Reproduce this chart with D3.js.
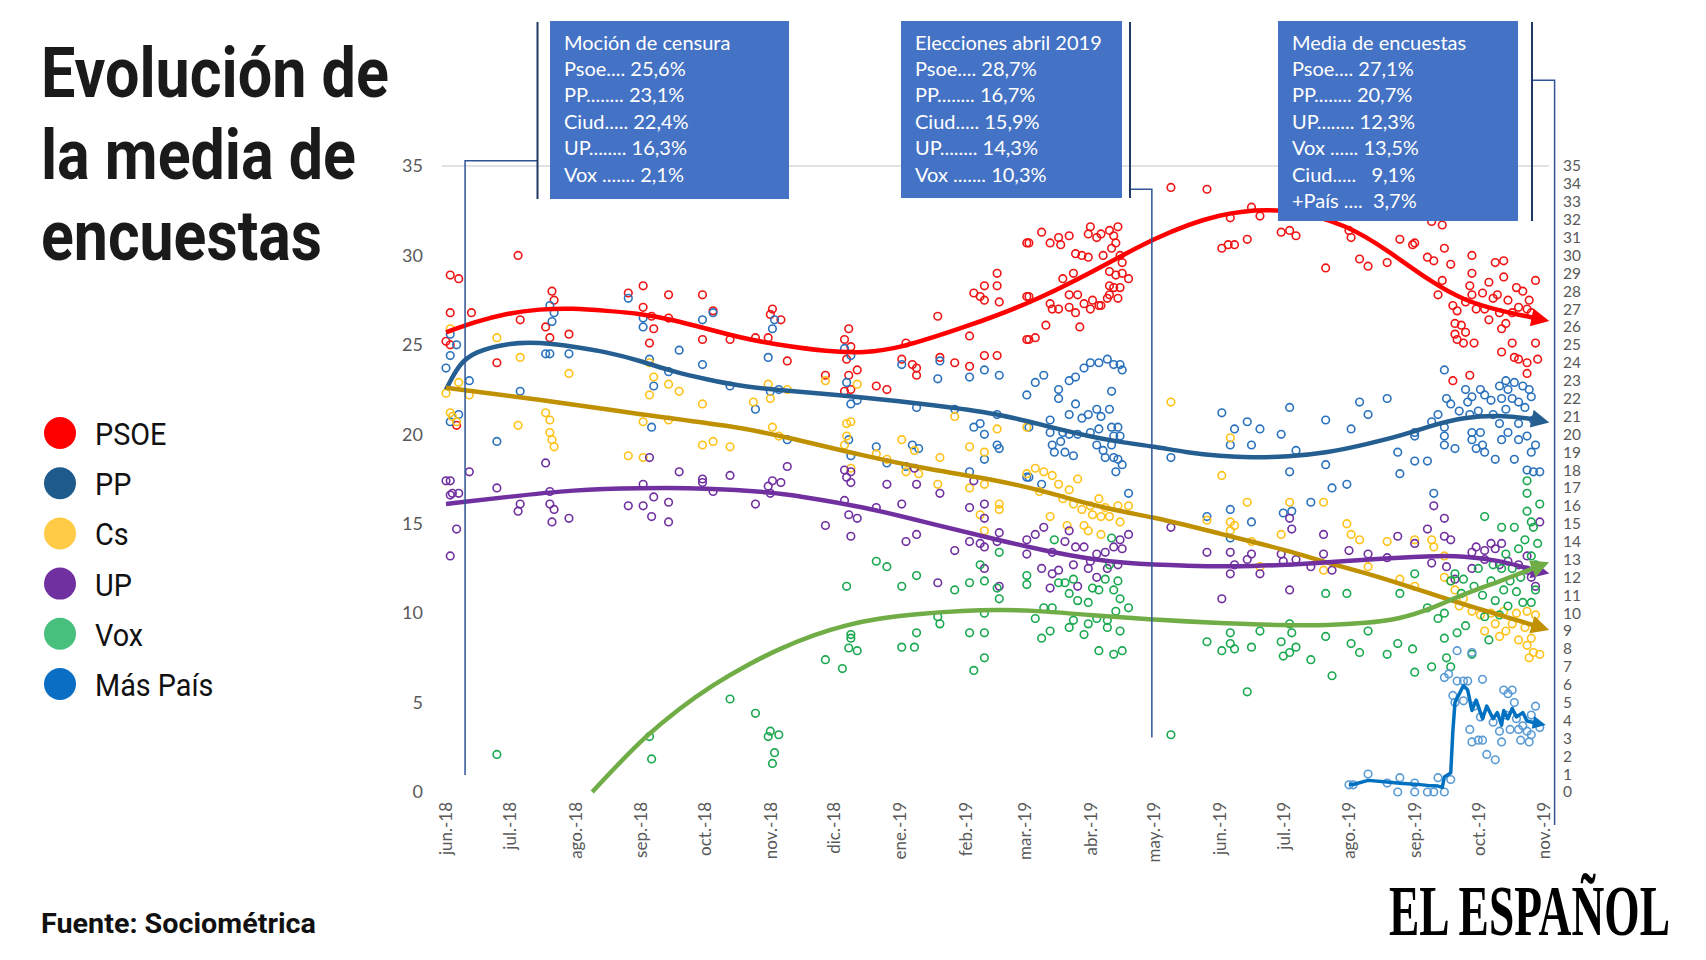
<!DOCTYPE html>
<html><head><meta charset="utf-8">
<script src="https://cdn.jsdelivr.net/npm/d3@7"></script>
<style>
body{margin:0;background:#fff;}
svg{display:block;}
</style></head><body>
<svg id="c" width="1706" height="960"></svg>
<script>
// ---------- DATA ----------
const monthLabels = ["jun.-18","jul.-18","ago.-18","sep.-18","oct.-18","nov.-18","dic.-18","ene.-19","feb.-19","mar.-19","abr.-19","may.-19","jun.-19","jul.-19","ago.-19","sep.-19","oct.-19","nov.-19"];
const monthDates = ["2018-06-01","2018-07-01","2018-08-01","2018-09-01","2018-10-01","2018-11-01","2018-12-01","2019-01-01","2019-02-01","2019-03-01","2019-04-01","2019-05-01","2019-06-01","2019-07-01","2019-08-01","2019-09-01","2019-10-01","2019-11-01"];
const leftTicks = [0,5,10,15,20,25,30,35];
const rightTicks = [0,1,2,3,4,5,6,7,8,9,10,11,12,13,14,15,16,17,18,19,20,21,22,23,24,25,26,27,28,29,30,31,32,33,34,35];
const partyNames = ["PSOE","PP","Cs","UP","Vox","Más País"];

const psoePolls = [["2018-06-03",28.9],["2018-06-07",28.7],["2018-07-05",30.0],["2018-06-03",26.8],["2018-06-13",26.8],["2018-06-01",25.2],["2018-06-03",25.0],["2018-06-06",20.5],["2018-07-06",26.4],["2018-06-25",24.0],["2018-07-21",28.0],["2018-07-22",27.5],["2018-07-18",26.0],["2018-07-20",25.4],["2018-07-29",25.6],["2018-08-26",27.9],["2018-09-02",28.3],["2018-09-02",27.1],["2018-09-06",26.6],["2018-09-07",25.9],["2018-09-05",25.1],["2018-09-14",27.8],["2018-09-14",26.5],["2018-09-30",27.8],["2018-09-30",25.3],["2018-10-05",26.9],["2018-10-13",25.3],
["2018-10-25",25.4],["2018-10-31",25.4],["2018-11-02",27.0],["2018-11-01",26.7],["2018-11-06",26.4],["2018-11-09",24.1],["2018-11-27",23.3],["2018-12-08",25.9],["2018-12-06",25.3],["2018-12-09",24.9],["2018-12-07",24.2],["2018-12-12",23.6],["2018-12-08",23.3],["2018-12-09",22.5],["2018-12-06",22.4],["2018-12-21",22.7],["2018-12-26",22.5],["2019-01-04",25.1],["2019-01-02",24.2],["2019-01-07",23.9],["2019-01-09",23.7],["2019-01-09",23.3],["2019-01-19",26.6],["2019-01-20",24.3],["2019-01-27",24.0],["2019-02-03",25.5],["2019-02-03",23.8],["2019-02-05",27.9],["2019-02-10",28.3],["2019-02-08",27.7],["2019-02-10",27.5],["2019-02-16",29.0],["2019-02-16",28.3],["2019-02-17",27.4],["2019-02-10",24.4],["2019-02-16",24.4],["2019-03-02",30.7],["2019-03-02",27.7],["2019-03-02",25.3],
["2019-03-09",31.3],["2019-03-03",30.7],["2019-03-13",30.7],["2019-03-17",31.0],["2019-03-18",30.6],["2019-03-22",31.1],["2019-03-31",31.2],["2019-04-01",31.6],["2019-04-04",31.0],["2019-04-06",31.2],["2019-04-10",31.4],["2019-04-14",31.6],["2019-04-12",31.1],["2019-04-13",30.7],["2019-04-11",30.4],["2019-04-15",30.0],["2019-04-16",29.6],["2019-03-25",30.1],["2019-03-28",30.0],["2019-03-31",29.9],["2019-04-07",30.0],["2019-03-24",29.0],["2019-03-19",28.7],["2019-04-10",29.1],["2019-04-13",28.9],["2019-04-16",29.0],["2019-04-19",28.7],["2019-04-10",28.3],["2019-04-12",28.2],["2019-04-15",28.2],["2019-04-10",27.8],["2019-04-14",27.6],["2019-03-03",27.7],["2019-03-13",27.3],["2019-03-22",27.8],["2019-03-26",27.8],["2019-03-29",27.3],["2019-04-02",27.5],["2019-04-05",27.2],["2019-04-09",27.6],["2019-03-14",27.0],["2019-03-17",27.0],["2019-03-22",27.1],["2019-03-25",26.8],["2019-04-01",27.0],["2019-04-06",27.2],["2019-03-11",26.1],["2019-03-27",26.0],["2019-03-03",25.3],["2019-03-06",25.4],
["2019-05-09",33.8],["2019-05-26",33.7],["2019-06-06",32.1],["2019-06-20",32.2],["2019-06-16",32.7],["2019-06-02",30.4],["2019-06-05",30.6],["2019-06-08",30.6],["2019-06-14",30.9],["2019-06-30",31.3],["2019-07-04",31.4],["2019-07-07",31.1],
["2019-07-21",29.3],["2019-08-01",31.4],["2019-08-02",31.0],["2019-08-06",29.8],["2019-08-10",29.4],["2019-08-19",29.6],["2019-08-25",30.9],["2019-09-01",30.7],["2019-08-31",30.6],["2019-09-09",31.9],["2019-09-14",31.7],["2019-09-07",29.9],["2019-09-10",29.7],["2019-09-15",30.4],["2019-09-18",29.5],["2019-09-14",28.6],["2019-09-12",27.8],["2019-09-19",27.2],["2019-09-21",26.9],["2019-09-25",27.4],["2019-09-28",30.0],["2019-09-28",29.0],["2019-09-27",28.3],["2019-09-28",27.8],["2019-10-03",27.9],["2019-10-06",28.5],["2019-10-09",29.6],["2019-10-13",29.7],["2019-10-13",28.8],["2019-10-08",27.6],["2019-10-04",27.0],["2019-10-10",27.8],["2019-10-15",27.5],["2019-10-19",28.2],["2019-10-22",28.0],["2019-10-28",28.6],["2019-10-25",27.5],["2019-10-20",27.1],["2019-10-17",26.8],["2019-10-11",26.8],["2019-10-06",26.4],["2019-09-30",27.0],["2019-10-24",27.0],["2019-10-26",26.8],["2019-09-20",26.2],["2019-09-23",26.1],["2019-09-20",25.6],["2019-09-25",25.7],["2019-09-21",25.3],["2019-09-24",25.1],["2019-09-29",25.1],["2019-10-12",25.9],["2019-10-14",26.2],["2019-10-17",25.1],["2019-10-12",24.6],["2019-10-28",25.1],["2019-10-18",24.3],["2019-10-20",24.2],["2019-10-24",24.0],["2019-10-29",24.2],["2019-10-24",23.4],["2019-09-19",23.0],["2019-09-27",23.3]];

const ppPolls = [["2018-06-01",23.7],["2018-06-03",24.4],["2018-06-03",25.6],["2018-06-06",25.0],["2018-06-03",20.7],["2018-06-07",21.1],["2018-06-12",23.0],["2018-06-25",19.6],["2018-07-06",22.4],["2018-07-20",27.2],["2018-07-22",26.8],["2018-07-21",26.3],["2018-07-18",24.5],["2018-07-20",24.5],["2018-07-29",24.5],["2018-08-26",27.6],["2018-09-02",26.5],["2018-09-02",26.0],["2018-09-05",24.2],["2018-09-07",22.7],["2018-09-06",20.4],["2018-09-14",23.5],["2018-09-19",24.7],["2018-09-30",26.4],["2018-10-05",26.8],["2018-09-30",23.9],["2018-10-13",22.7],
["2018-11-02",25.9],["2018-11-03",26.4],["2018-10-31",24.3],["2018-10-25",21.4],["2018-11-01",22.4],["2018-11-05",22.5],["2018-11-09",19.7],["2018-12-06",24.8],["2018-12-09",24.4],["2018-12-07",22.9],["2018-12-09",21.7],["2018-12-12",21.9],["2018-12-08",19.7],["2018-12-09",18.8],["2018-12-21",19.3],["2018-12-26",18.4],["2019-01-02",23.9],["2019-01-09",21.5],["2019-01-07",19.4],["2019-01-10",19.2],["2019-01-04",18.2],["2019-01-19",23.1],["2019-01-20",24.1],["2019-01-27",21.4],["2019-02-03",23.2],["2019-02-05",20.4],["2019-02-08",20.6],["2019-02-10",20.0],["2019-02-10",23.6],["2019-02-17",23.3],["2019-02-16",21.1],["2019-02-16",19.4],["2019-02-17",19.2],["2019-02-03",17.9],["2019-02-10",18.6],["2019-03-02",22.2],["2019-03-02",17.6],
["2019-03-06",22.9],["2019-03-10",23.3],["2019-03-17",22.5],["2019-03-17",22.0],["2019-03-22",23.0],["2019-03-25",23.2],["2019-03-29",23.7],["2019-04-01",24.0],["2019-04-05",24.0],["2019-04-09",24.2],["2019-04-12",23.9],["2019-04-15",23.9],["2019-04-16",23.6],["2019-04-11",22.4],["2019-03-25",21.7],["2019-03-13",20.8],["2019-03-22",21.1],["2019-03-28",20.9],["2019-03-31",21.1],["2019-04-04",21.4],["2019-04-06",21.0],["2019-04-10",21.4],["2019-03-03",20.4],["2019-03-13",20.1],["2019-03-19",20.1],["2019-03-22",20.0],["2019-03-26",20.0],["2019-04-01",20.1],["2019-04-05",20.3],["2019-04-11",20.4],["2019-04-14",20.4],["2019-04-12",19.9],["2019-04-15",19.9],["2019-03-14",19.4],["2019-03-18",19.6],["2019-03-15",19.0],["2019-03-20",19.0],["2019-03-24",18.8],["2019-04-04",19.4],["2019-04-07",19.1],["2019-04-11",19.4],["2019-04-08",18.7],["2019-04-12",18.7],["2019-04-14",18.6],["2019-04-16",18.3],["2019-04-13",17.9],["2019-03-03",17.6],["2019-03-09",17.2],["2019-04-19",16.7],
["2019-05-09",18.7],["2019-06-02",21.2],["2019-06-08",20.3],["2019-06-14",20.7],["2019-06-20",20.3],["2019-06-06",19.4],["2019-06-16",19.4],["2019-06-30",20.0],["2019-07-04",21.5],["2019-07-07",19.1],["2019-07-04",17.9],["2019-05-26",15.4],["2019-06-06",15.8],["2019-06-06",14.2],["2019-06-16",15.1],["2019-07-01",15.6],["2019-07-05",15.7],["2019-07-14",16.2],
["2019-07-21",20.8],["2019-08-02",20.3],["2019-08-06",21.8],["2019-08-10",21.1],["2019-08-19",22.0],["2019-07-21",18.3],["2019-07-24",17.0],["2019-07-31",17.2],["2019-08-24",19.0],["2019-08-25",17.8],["2019-09-01",20.1],["2019-09-01",19.9],["2019-09-01",18.5],["2019-09-07",18.5],["2019-09-10",16.7],["2019-09-09",20.7],["2019-09-12",21.1],["2019-09-15",23.6],["2019-09-15",20.4],["2019-09-15",19.9],["2019-09-15",19.4],["2019-09-16",22.0],["2019-09-18",21.7],["2019-09-20",19.2],["2019-09-22",21.3],["2019-09-25",22.5],["2019-09-26",21.8],["2019-09-28",22.1],["2019-09-27",21.1],["2019-09-28",20.1],["2019-09-28",19.7],["2019-09-30",19.2],["2019-10-02",22.5],["2019-10-04",22.2],["2019-10-01",21.3],["2019-10-02",20.1],["2019-10-03",19.4],["2019-10-04",19.0],["2019-10-07",21.9],["2019-10-08",21.1],["2019-10-09",18.6],["2019-10-11",22.7],["2019-10-12",22.0],["2019-10-11",20.6],["2019-10-12",19.7],["2019-10-14",23.0],["2019-10-15",22.5],["2019-10-14",21.4],["2019-10-15",20.1],["2019-10-17",22.0],["2019-10-18",22.9],["2019-10-20",21.8],["2019-10-18",18.6],["2019-10-20",20.6],["2019-10-22",22.7],["2019-10-23",21.5],["2019-10-24",19.9],["2019-10-26",22.1],["2019-10-27",20.8],["2019-10-28",19.4],["2019-10-26",19.0],["2019-10-24",18.0],["2019-10-27",17.9],["2019-10-30",17.9],["2019-10-25",22.5],["2019-10-20",19.7]];

const csPolls = [["2018-06-01",22.3],["2018-06-03",25.9],["2018-06-03",21.2],["2018-06-04",21.0],["2018-06-06",20.7],["2018-06-07",22.9],["2018-06-12",22.2],["2018-06-25",25.4],["2018-07-06",24.3],["2018-07-05",20.5],["2018-07-18",21.2],["2018-07-20",20.8],["2018-07-20",20.1],["2018-07-21",19.7],["2018-07-22",19.3],["2018-07-29",23.4],["2018-08-26",18.8],["2018-09-02",18.7],["2018-09-02",20.7],["2018-09-05",22.2],["2018-09-07",23.2],["2018-09-05",24.0],["2018-09-14",22.8],["2018-09-14",20.8],["2018-09-19",22.4],["2018-09-30",21.7],["2018-09-30",19.4],["2018-10-05",19.6],["2018-10-13",19.3],
["2018-10-31",22.8],["2018-10-24",21.8],["2018-11-01",22.0],["2018-11-09",22.5],["2018-11-02",20.4],["2018-11-05",19.9],["2018-11-27",23.0],["2018-12-12",22.8],["2018-12-07",20.6],["2018-12-09",20.7],["2018-12-07",19.9],["2018-12-06",19.4],["2018-12-09",18.1],["2018-12-21",18.9],["2018-12-26",18.6],["2019-01-02",19.7],["2019-01-08",19.1],["2019-01-04",17.9],["2019-01-10",17.8],["2019-01-20",18.7],["2019-01-19",17.2],["2019-01-27",21.0],["2019-02-03",19.3],["2019-02-03",17.0],["2019-02-10",19.0],["2019-02-10",17.2],["2019-02-16",20.3],["2019-02-17",16.1],["2019-02-17",15.8],["2019-02-08",15.5],["2019-02-10",14.6],["2019-03-02",20.4],["2019-03-02",17.8],
["2019-03-06",18.1],["2019-03-10",17.9],["2019-03-14",17.7],["2019-03-08",16.8],["2019-03-17",17.2],["2019-03-22",16.9],["2019-03-26",17.5],["2019-03-19",16.4],["2019-03-24",16.1],["2019-03-28",15.8],["2019-04-01",16.0],["2019-04-05",16.4],["2019-04-08",15.9],["2019-04-14",16.0],["2019-04-19",16.0],["2019-04-02",15.5],["2019-04-06",15.4],["2019-04-10",15.4],["2019-04-15",15.1],["2019-03-13",15.4],["2019-03-29",14.9],["2019-03-31",14.6],["2019-03-21",14.9],["2019-04-06",14.4],
["2019-05-09",21.8],["2019-06-06",19.8],["2019-06-02",17.7],["2019-06-14",16.2],["2019-07-04",16.2],["2019-05-26",15.2],["2019-06-06",15.1],["2019-06-08",14.9],["2019-06-06",14.6],["2019-06-16",14.0],["2019-06-30",14.4],["2019-06-20",12.6],
["2019-07-20",16.2],["2019-07-31",15.0],["2019-08-02",14.4],["2019-08-06",14.1],["2019-08-10",12.6],["2019-08-19",14.0],["2019-07-20",12.4],["2019-08-25",11.9],["2019-09-01",11.5],["2019-09-01",14.1],["2019-09-09",14.1],["2019-09-10",13.7],["2019-09-15",13.2],["2019-09-15",12.0],["2019-09-18",11.8],["2019-09-20",11.3],["2019-09-22",10.4],["2019-09-24",10.8],["2019-09-28",10.1],["2019-10-02",9.9],["2019-10-04",9.0],["2019-10-07",10.0],["2019-10-09",9.4],["2019-10-11",8.7],["2019-10-13",10.1],["2019-10-14",9.0],["2019-10-17",9.4],["2019-10-19",10.0],["2019-10-20",8.5],["2019-10-23",9.2],["2019-10-24",8.2],["2019-10-26",8.6],["2019-10-27",7.8],["2019-10-30",7.7],["2019-10-25",7.5],["2019-10-24",10.1],["2019-10-28",9.9]];

const upPolls = [["2018-06-01",17.4],["2018-06-03",17.4],["2018-06-03",16.6],["2018-06-04",16.7],["2018-06-07",16.7],["2018-06-06",14.7],["2018-06-03",13.2],["2018-06-12",17.9],["2018-06-25",17.0],["2018-07-05",15.7],["2018-07-06",16.1],["2018-07-18",18.4],["2018-07-20",16.8],["2018-07-20",16.1],["2018-07-22",15.8],["2018-07-21",15.1],["2018-07-29",15.3],["2018-08-26",16.0],["2018-09-02",17.2],["2018-09-02",16.0],["2018-09-05",18.7],["2018-09-07",16.5],["2018-09-06",15.4],["2018-09-14",16.2],["2018-09-14",15.1],["2018-09-19",17.9],["2018-09-30",17.5],["2018-09-30",17.3],["2018-10-05",16.8],["2018-10-13",17.7],
["2018-10-25",16.1],["2018-10-31",17.1],["2018-11-02",17.4],["2018-11-01",16.7],["2018-11-06",17.3],["2018-11-09",18.2],["2018-11-27",14.9],["2018-12-06",18.0],["2018-12-09",17.9],["2018-12-07",17.6],["2018-12-09",17.3],["2018-12-06",16.3],["2018-12-08",15.5],["2018-12-12",15.3],["2018-12-09",14.3],["2018-12-26",17.2],["2018-12-21",15.9],["2019-01-02",16.1],["2019-01-08",18.1],["2019-01-09",17.2],["2019-01-04",14.0],["2019-01-09",14.4],["2019-01-20",16.7],["2019-01-19",11.7],["2019-01-27",13.5],["2019-02-03",15.9],["2019-02-05",17.4],["2019-02-10",16.1],["2019-02-10",15.3],["2019-02-03",14.0],["2019-02-08",13.9],["2019-02-10",13.7],["2019-02-10",12.5],["2019-02-17",14.5],["2019-02-16",14.0],["2019-02-17",11.5],["2019-03-02",14.1],["2019-03-02",13.3],
["2019-03-06",14.4],["2019-03-10",14.8],["2019-03-09",12.5],["2019-03-14",13.4],["2019-03-20",14.0],["2019-03-22",14.6],["2019-03-25",13.7],["2019-03-29",13.7],["2019-04-01",12.9],["2019-04-04",13.3],["2019-04-08",13.4],["2019-04-12",13.7],["2019-04-15",14.1],["2019-04-16",13.6],["2019-04-19",14.4],["2019-03-14",12.2],["2019-03-17",12.4],["2019-03-24",12.7],["2019-03-31",12.5],["2019-04-04",12.0],["2019-04-09",12.5],["2019-04-14",12.7],["2019-03-13",11.4],["2019-03-26",11.5],
["2019-05-09",14.8],["2019-05-26",13.4],["2019-06-06",13.4],["2019-06-08",12.7],["2019-06-06",12.2],["2019-06-14",13.0],["2019-06-16",13.3],["2019-06-20",12.2],["2019-06-02",10.8],["2019-06-30",13.3],["2019-07-04",15.3],["2019-07-05",14.7],["2019-07-01",12.9],["2019-07-07",13.0],["2019-07-04",11.3],["2019-07-14",12.6],
["2019-07-20",14.4],["2019-07-20",13.3],["2019-07-24",12.4],["2019-08-01",13.5],["2019-08-10",13.3],["2019-08-19",13.1],["2019-08-24",14.3],["2019-09-01",13.9],["2019-09-07",14.7],["2019-09-10",16.0],["2019-09-15",15.3],["2019-09-15",14.3],["2019-09-18",14.1],["2019-09-09",12.8],["2019-09-16",12.6],["2019-09-20",11.9],["2019-09-28",13.4],["2019-09-30",13.7],["2019-10-04",13.5],["2019-10-07",13.9],["2019-10-09",13.6],["2019-10-12",13.9],["2019-09-28",12.5],["2019-10-04",13.0],["2019-10-11",12.7],["2019-10-15",12.9],["2019-10-20",12.7],["2019-10-24",13.2],["2019-10-26",12.0],["2019-10-30",15.1],["2019-10-28",11.5],["2019-10-24",12.4]];

const voxPolls = [["2018-06-25",2.1],["2018-09-05",3.1],["2018-09-06",1.85],["2018-10-13",5.2],
["2018-10-25",4.4],["2018-11-01",3.4],["2018-10-31",3.1],["2018-11-05",3.2],["2018-11-03",2.2],["2018-11-02",1.6],["2018-11-27",7.4],["2018-12-05",6.9],["2018-12-07",11.5],["2018-12-09",8.8],["2018-12-09",8.6],["2018-12-08",8.05],["2018-12-12",7.9],["2018-12-21",12.9],["2018-12-26",12.6],["2019-01-02",11.5],["2019-01-09",12.1],["2019-01-09",8.9],["2019-01-02",8.1],["2019-01-08",8.1],["2019-01-19",9.8],["2019-01-20",9.4],["2019-01-27",11.3],["2019-02-03",11.7],["2019-02-03",8.9],["2019-02-05",6.8],["2019-02-08",12.7],["2019-02-10",11.8],["2019-02-10",10.0],["2019-02-10",8.9],["2019-02-10",7.5],["2019-02-16",11.4],["2019-02-17",10.8],["2019-02-17",13.4],["2019-03-02",12.1],["2019-03-02",11.6],
["2019-03-06",9.7],["2019-03-09",8.6],["2019-03-10",10.3],["2019-03-13",9.0],["2019-03-14",10.3],["2019-03-15",14.1],["2019-03-17",11.7],["2019-03-20",11.7],["2019-03-22",11.1],["2019-03-24",11.9],["2019-03-26",10.7],["2019-03-24",9.6],["2019-03-22",9.2],["2019-03-29",8.8],["2019-03-31",10.6],["2019-03-31",9.4],["2019-04-02",11.4],["2019-04-05",11.3],["2019-04-08",11.9],["2019-04-10",12.7],["2019-04-11",14.2],["2019-04-12",11.3],["2019-04-14",11.8],["2019-04-15",10.8],["2019-04-13",10.1],["2019-04-09",9.6],["2019-04-04",9.7],["2019-04-09",9.2],["2019-04-15",9.0],["2019-04-19",10.3],["2019-04-05",7.9],["2019-04-12",7.7],["2019-04-16",7.9],
["2019-05-09",3.2],["2019-05-26",8.4],["2019-06-02",7.9],["2019-06-06",8.9],["2019-06-06",8.3],["2019-06-08",8.0],["2019-06-16",8.1],["2019-06-14",5.6],["2019-06-20",9.0],["2019-06-30",8.4],["2019-07-01",7.6],["2019-07-04",7.8],["2019-07-07",8.1],["2019-07-05",8.9],["2019-07-04",9.4],["2019-07-14",7.4],
["2019-07-21",11.1],["2019-07-21",8.7],["2019-07-24",6.5],["2019-07-31",11.1],["2019-08-02",8.3],["2019-08-06",7.8],["2019-08-10",9.0],["2019-08-19",7.7],["2019-08-24",8.3],["2019-08-25",11.1],["2019-09-01",12.2],["2019-08-31",8.0],["2019-09-01",6.7],["2019-09-07",10.3],["2019-09-09",7.0],["2019-09-12",9.7],["2019-09-15",10.0],["2019-09-15",8.6],["2019-09-16",7.5],["2019-09-18",7.0],["2019-09-18",11.8],["2019-09-20",12.2],["2019-09-21",8.9],["2019-09-23",11.1],["2019-09-24",11.9],["2019-09-25",9.3],["2019-09-28",7.7],["2019-09-29",11.5],["2019-10-01",12.5],["2019-10-03",11.0],["2019-10-04",9.8],["2019-10-04",15.4],["2019-10-06",8.5],["2019-10-07",11.8],["2019-10-08",12.7],["2019-10-09",10.7],["2019-10-11",9.9],["2019-10-12",14.8],["2019-10-12",12.5],["2019-10-13",11.3],["2019-10-14",13.3],["2019-10-15",10.4],["2019-10-16",11.8],["2019-10-17",12.5],["2019-10-18",14.8],["2019-10-19",11.2],["2019-10-20",13.6],["2019-10-21",12.0],["2019-10-22",10.6],["2019-10-23",14.1],["2019-10-24",17.4],["2019-10-24",16.7],["2019-10-24",15.7],["2019-10-26",13.2],["2019-10-27",14.8],["2019-10-28",12.7],["2019-10-30",16.1],["2019-10-28",11.3],["2019-10-26",10.6],["2019-10-29",13.9],["2019-10-26",15.1]];

const mpPolls = [["2019-08-01",0.4],["2019-08-03",0.4],["2019-08-10",1.0],["2019-08-19",0.5],["2019-08-24",0.0],["2019-08-25",0.8],["2019-09-01",0.5],["2019-09-01",0.0],["2019-09-07",0.0],["2019-09-10",0.0],["2019-09-12",0.8],["2019-09-15",0.0],["2019-09-18",0.7],["2019-09-15",6.4],["2019-09-17",6.6],["2019-09-19",5.4],["2019-09-21",6.2],["2019-09-24",6.2],["2019-09-26",6.2],["2019-10-03",6.3],["2019-09-20",5.0],["2019-09-24",5.1],["2019-09-29",4.8],["2019-10-02",4.2],["2019-09-27",3.5],["2019-09-28",2.8],["2019-10-03",2.9],["2019-10-05",2.1],["2019-10-09",1.8],["2019-10-08",3.9],["2019-10-11",3.4],["2019-10-12",2.8],["2019-10-13",5.7],["2019-10-15",5.5],["2019-10-17",5.7],["2019-10-18",5.0],["2019-10-14",4.3],["2019-10-19",4.1],["2019-10-20",3.5],["2019-10-21",2.9],["2019-10-22",3.7],["2019-10-24",3.4],["2019-10-26",3.2],["2019-10-25",2.8],["2019-10-28",4.8],["2019-10-30",3.6],["2019-10-26",4.3],["2019-10-16",3.5],["2019-10-01",2.9],["2019-09-21",7.9],["2019-09-28",7.8]];

const psoeTrend = [["2018-06-01",25.7],["2018-06-14",26.26],["2018-06-30",26.77],["2018-07-15",27.0],["2018-07-31",27.05],["2018-08-16",26.9],["2018-09-01",26.75],["2018-09-16",26.4],["2018-10-02",25.9],["2018-10-18",25.4],["2018-11-02",25.05],["2018-11-29",24.6],["2018-12-15",24.55],["2019-01-01",24.8],["2019-02-01",26.0],["2019-03-01",27.2],["2019-04-01",29.0],["2019-05-01",31.0],["2019-06-01",32.4],["2019-07-01",32.7],["2019-08-01",31.7],["2019-08-20",30.2],["2019-09-09",28.5],["2019-09-24",27.5],["2019-10-11",26.9],["2019-11-01",26.4]];
const ppTrend = [["2018-06-01",22.5],["2018-06-07",23.9],["2018-06-14",24.6],["2018-06-30",25.1],["2018-07-15",25.15],["2018-07-31",24.9],["2018-08-16",24.6],["2018-09-01",24.1],["2018-09-16",23.5],["2018-10-02",23.07],["2018-10-18",22.7],["2018-11-02",22.5],["2018-12-15",22.07],["2019-01-16",21.65],["2019-02-16",21.18],["2019-03-14",20.37],["2019-03-31",19.9],["2019-04-15",19.56],["2019-05-01",19.32],["2019-05-17",18.97],["2019-06-01",18.79],["2019-06-16",18.7],["2019-07-03",18.74],["2019-07-22",18.97],["2019-08-09",19.44],["2019-08-25",19.9],["2019-09-09",20.49],["2019-09-24",20.95],["2019-10-11",21.07],["2019-10-26",20.88],["2019-11-01",20.72]];
const csTrend = [["2018-06-01",22.6],["2018-07-15",21.95],["2018-09-01",21.1],["2018-10-18",20.4],["2018-11-10",19.8],["2018-12-15",18.8],["2019-01-16",18.0],["2019-02-16",17.45],["2019-03-14",16.7],["2019-03-31",16.1],["2019-04-15",15.7],["2019-05-01",15.35],["2019-05-17",14.9],["2019-06-01",14.45],["2019-06-16",14.0],["2019-07-03",13.5],["2019-07-22",12.8],["2019-08-09",12.25],["2019-08-25",11.65],["2019-09-09",11.07],["2019-09-24",10.5],["2019-10-11",9.9],["2019-11-01",9.15]];
const upTrend = [["2018-06-01",16.1],["2018-06-30",16.5],["2018-07-31",16.9],["2018-09-01",17.0],["2018-10-02",17.0],["2018-11-02",16.75],["2018-11-14",16.55],["2018-12-15",15.95],["2019-01-16",15.0],["2019-02-16",14.1],["2019-03-14",13.4],["2019-03-31",13.05],["2019-04-15",12.8],["2019-05-17",12.63],["2019-06-16",12.6],["2019-07-19",12.8],["2019-08-09",13.0],["2019-09-09",13.2],["2019-09-24",13.2],["2019-10-11",12.95],["2019-10-26",12.45],["2019-11-01",12.28]];
const voxTrend = [["2018-08-09",0],["2018-08-20",1.4],["2018-09-03",3.1],["2018-09-19",4.67],["2018-10-05",6.0],["2018-10-21",7.1],["2018-11-06",8.05],["2018-11-22",8.8],["2018-12-07",9.35],["2018-12-22",9.7],["2019-01-08",9.95],["2019-02-01",10.14],["2019-02-16",10.18],["2019-03-03",10.17],["2019-03-31",9.9],["2019-05-01",9.63],["2019-06-01",9.44],["2019-07-03",9.32],["2019-07-22",9.32],["2019-08-09",9.44],["2019-08-25",9.67],["2019-09-09",10.25],["2019-09-24",11.07],["2019-10-11",11.77],["2019-10-26",12.46],["2019-11-01",12.74]];
const mpAverage = [["2019-08-01",0.42],["2019-08-03",0.42],["2019-08-10",0.65],["2019-08-19",0.56],["2019-08-25",0.49],["2019-09-01",0.44],["2019-09-07",0.37],["2019-09-12",0.33],["2019-09-14",0.26],["2019-09-15",0.84],["2019-09-18",1.07],["2019-09-19",3.4],["2019-09-20",5.0],["2019-09-24",5.95],["2019-09-26",5.7],["2019-09-28",4.56],["2019-09-30",5.14],["2019-10-03",4.1],["2019-10-05",4.8],["2019-10-08",4.1],["2019-10-10",4.44],["2019-10-12",3.74],["2019-10-13",4.56],["2019-10-15",4.1],["2019-10-17",4.67],["2019-10-19",4.2],["2019-10-22",4.44],["2019-10-24",3.97],["2019-10-28",3.86],["2019-10-31",3.79]];

const box1Lines = ["Moción de censura","Psoe.... 25,6%","PP........ 23,1%","Ciud..... 22,4%","UP........ 16,3%","Vox ....... 2,1%"];
const box2Lines = ["Elecciones abril 2019","Psoe.... 28,7%","PP........ 16,7%","Ciud..... 15,9%","UP........ 14,3%","Vox ....... 10,3%"];
const box3Lines = ["Media de encuestas","Psoe.... 27,1%","PP........ 20,7%","UP........ 12,3%","Vox ...... 13,5%","Ciud.....   9,1%","+País ....  3,7%"];
// leader anchors: date where line drops, lowest value, elbow value
const leaderDates = ["2018-06-10","2019-04-30","2019-11-06"];
const leaderLow = [0.95, 3.05, -1.85];
const leaderElbow = [35.3, 33.7, 39.8];

// ---------- STYLE / LAYOUT ----------
const legendColors = ["#ff0000","#1f5a8c","#ffca45","#7030a0","#46c07c","#0a6ec4"];
const pointColors = ["#f01515","#2b72bd","#ffc21a","#7030a0","#1aa850","#5b9bd5"];
const lineColors = ["#ff0000","#255e91","#bf9000","#7030a0","#70ad47","#0070c0"];

const svg = d3.select("#c");
const parse = d3.timeParse("%Y-%m-%d");
const x = d3.scaleTime().domain([parse("2018-06-01"), parse("2019-11-01")]).range([446, 1544]);
const y = d3.scaleLinear().domain([0, 35]).range([792, 166]);
const AX = "Lato, 'Open Sans', sans-serif";

// helper: horizontally squeeze a text to a target width with a transform
function squeeze(sel, x0, y0, target){
  sel.each(function(){
    const w = this.getComputedTextLength();
    const k = w > 0 ? target / w : 1;
    d3.select(this).attr("x",0).attr("y",0).attr("transform",`translate(${x0},${y0}) scale(${k},1)`);
  });
}

// title
const titleLines = ["Evolución de","la media de","encuestas"];
const titleW = [348, 315, 281];
svg.append("g").selectAll("text").data(titleLines).join("text")
  .style("font-family","Roboto, sans-serif").style("font-weight",700).style("font-size","70px")
  .style("fill","#1a1a1a").text(d=>d)
  .each(function(d,i){ squeeze(d3.select(this), 41, 97 + i*81.5, titleW[i]); });

// legend
const lg = svg.append("g").selectAll("g").data(partyNames).join("g")
  .attr("transform",(d,i)=>`translate(60,${433 + i*50.2})`);
lg.append("circle").attr("r",16).attr("fill",(d,i)=>legendColors[i]);
lg.append("text").attr("transform","translate(35,12) scale(0.9,1)")
  .style("font-family","Roboto, sans-serif").style("font-size","32px").style("fill","#111")
  .text(d=>d);

// footer
svg.append("text")
  .style("font-family","Roboto, sans-serif").style("font-weight",700).style("font-size","28px").style("fill","#111")
  .text("Fuente: Sociométrica").call(squeeze, 41, 933, 275);
svg.append("text")
  .style("font-family","'Liberation Serif', serif").style("font-weight",700).style("font-size","72px").style("fill","#000")
  .text("EL ESPAÑOL").call(squeeze, 1389, 935, 281);

// gridline at top
svg.append("line").attr("x1",442).attr("x2",1549).attr("y1",y(35)).attr("y2",y(35))
  .attr("stroke","#d9d9d9").attr("stroke-width",1.3);

// axes
const gL = svg.append("g").attr("transform","translate(442,0)")
  .call(d3.axisLeft(y).tickValues(leftTicks).tickSize(0).tickPadding(19));
gL.select(".domain").remove();
gL.selectAll("text").style("font-family",AX).style("font-size","18px").style("fill","#595959");

const gR = svg.append("g").attr("transform","translate(1554,0)")
  .call(d3.axisRight(y).tickValues(rightTicks).tickSize(0).tickPadding(9));
gR.select(".domain").remove();
gR.selectAll("text").style("font-family",AX).style("font-size","15.5px").style("fill","#595959");

const gB = svg.append("g").attr("transform",`translate(0,${y(0)})`)
  .call(d3.axisBottom(x).tickValues(monthDates.map(parse)).tickFormat((d,i)=>monthLabels[i]).tickSize(0));
gB.select(".domain").remove();
gB.selectAll("text").attr("transform","rotate(-90)").attr("x",-10).attr("y",0).attr("dy","0.35em")
  .style("text-anchor","end").style("font-family",AX).style("font-size","17px").style("fill","#595959");

// markers (arrowheads)
const defs = svg.append("defs");
lineColors.forEach((c,i)=>{
  defs.append("marker").attr("id","arr"+i).attr("viewBox","0 0 10 10").attr("refX",7).attr("refY",5)
    .attr("markerWidth", i===5?15:21).attr("markerHeight", i===5?13:18).attr("markerUnits","userSpaceOnUse")
    .attr("orient","auto").append("path").attr("d","M0,0 L10,5 L0,10 z").attr("fill",c);
});

// polls
const polls = [psoePolls, ppPolls, csPolls, upPolls, voxPolls, mpPolls];
polls.forEach((arr,i)=>{
  svg.append("g").selectAll("circle").data(arr).join("circle")
    .attr("cx",d=>x(parse(d[0]))).attr("cy",d=>y(d[1])).attr("r",3.8)
    .attr("fill","none").attr("stroke",pointColors[i]).attr("stroke-width",1.6);
});

// trend lines
const trends = [psoeTrend, ppTrend, csTrend, upTrend, voxTrend];
const smooth = d3.line().x(d=>x(parse(d[0]))).y(d=>y(d[1])).curve(d3.curveBasis);
trends.forEach((arr,i)=>{
  svg.append("path").datum(arr).attr("d",smooth).attr("fill","none")
    .attr("stroke",lineColors[i]).attr("stroke-width",4.5).attr("marker-end",`url(#arr${i})`);
});
const straight = d3.line().x(d=>x(parse(d[0]))).y(d=>y(d[1]));
svg.append("path").datum(mpAverage).attr("d",straight).attr("fill","none")
  .attr("stroke",lineColors[5]).attr("stroke-width",3.5).attr("stroke-linejoin","round").attr("marker-end","url(#arr5)");

// annotation boxes
const boxes = [
  {lines: box1Lines, x0: 550, x1: 789, y1: 199, side: 537.5},
  {lines: box2Lines, x0: 901, x1: 1122, y1: 198, side: 1130},
  {lines: box3Lines, x0: 1278, x1: 1518, y1: 221, side: 1532}
];
boxes.forEach((b,i)=>{
  const lx = x(parse(leaderDates[i]));
  svg.append("path")
    .attr("d",`M${b.side},${y(leaderElbow[i])}H${lx}V${y(leaderLow[i])}`)
    .attr("fill","none").attr("stroke","#2f5597").attr("stroke-width",1.5);
  svg.append("line").attr("x1",b.side).attr("x2",b.side).attr("y1",22).attr("y2",b.y1)
    .attr("stroke","#203864").attr("stroke-width",2);
  svg.append("rect").attr("x",b.x0).attr("y",21).attr("width",b.x1-b.x0).attr("height",b.y1-21).attr("fill","#4472c4");
  svg.append("g").selectAll("text").data(b.lines).join("text")
    .attr("x",b.x0+14).attr("y",(d,k)=>49.5 + k*26.4)
    .attr("xml:space","preserve").style("white-space","pre")
    .style("font-family",AX).style("font-size","20px").style("fill","#fff")
    .text(d=>d);
});
</script>
</body></html>
